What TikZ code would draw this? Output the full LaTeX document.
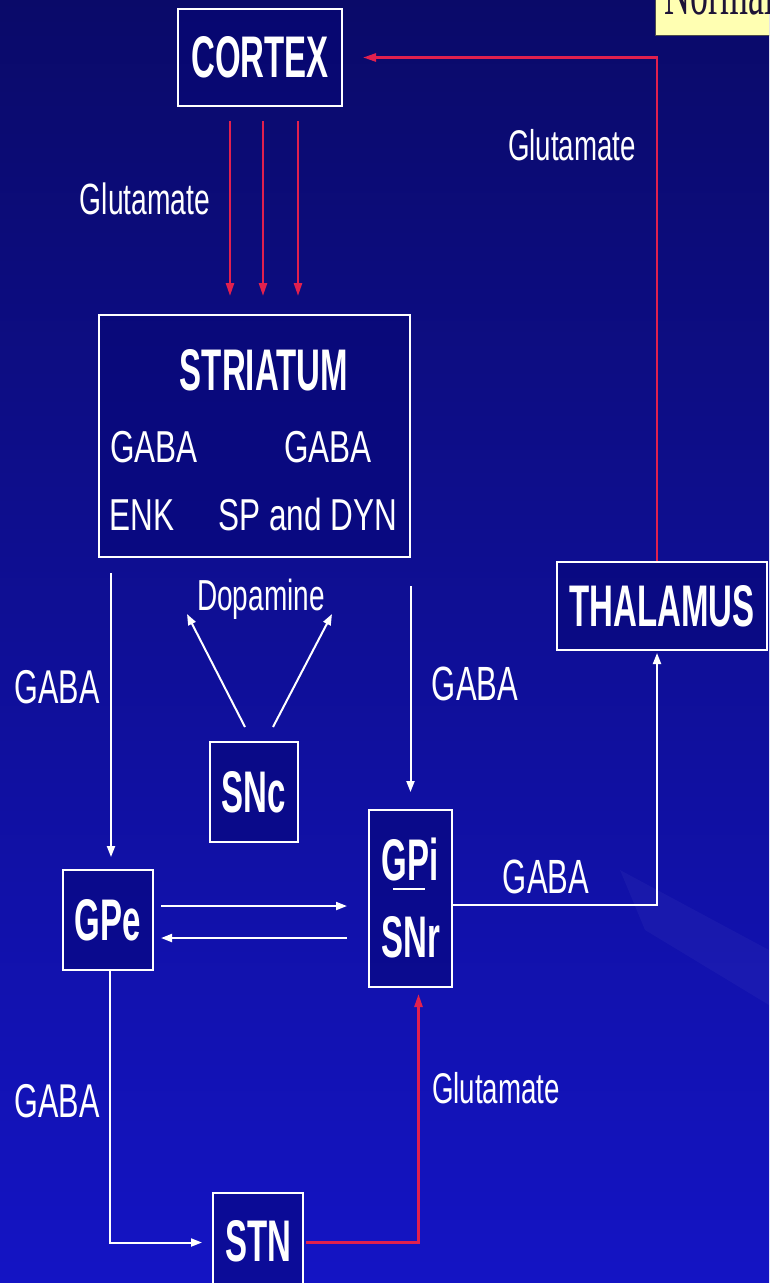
\documentclass[tikz,border=0pt]{standalone}
\usepackage{fontspec}
\setmainfont{Liberation Sans}
\newfontfamily\noteserif{Liberation Serif}
\usepackage{graphicx}
\usetikzlibrary{arrows.meta,calc}

\definecolor{bgtop}{RGB}{10,10,105}
\definecolor{bgmid}{RGB}{14,14,160}
\definecolor{bgbot}{RGB}{20,20,196}
\definecolor{boxfill}{RGB}{6,6,118}
\definecolor{glured}{RGB}{225,32,78}
\definecolor{noteyellow}{RGB}{255,255,178}
\definecolor{noteink}{RGB}{30,20,55}

% tall, narrow lettering used throughout the chart
\newcommand{\boldlab}[1]{\scalebox{1}[1.78]{\fontsize{33}{33}\selectfont\bfseries #1}}
\newcommand{\innerlab}[1]{\scalebox{1}[1.42]{\fontsize{31.5}{31.5}\selectfont #1}}
\newcommand{\plainlab}[2]{\scalebox{1}[1.55]{\fontsize{#1}{#1}\selectfont #2}}

\begin{document}
\begin{tikzpicture}[x=1pt,y=-1pt,
  region/.style={draw=white, line width=2pt, fill=boxfill, fill opacity=0.55,
                 text opacity=1, text=white, inner sep=0pt},
  lab/.style={text=white, inner sep=0pt, anchor=base},
  wline/.style={draw=white, line width=2pt},
  warrow/.style={wline, -{Triangle[width=8pt,length=11pt]}},
  rline/.style={draw=glured, line width=2.5pt},
  rarrow/.style={rline, -{Triangle[width=8pt,length=13pt]}}]

\useasboundingbox (0,0) rectangle (769,1283);
\clip (0,0) rectangle (769,1283);

% backdrop
\shade[top color=bgtop, middle color=bgmid, bottom color=bgbot] (0,0) rectangle (769,1283);
\fill[white, opacity=0.035] (620,870) -- (769,950) -- (769,1005) -- (645,930) -- cycle;

% note tab in the corner
\fill[noteyellow, draw=gray!60!black, line width=0.8pt] (655,-5) rectangle (775,35);
\node[anchor=base west, inner sep=0pt, text=noteink] (note) at (664,14)
  {\scalebox{1}[1.8]{\fontsize{36}{36}\selectfont\noteserif Normal}};

% regions
\node[region, minimum width=164pt, minimum height=97pt] (cortex) at (260,57.5) {\boldlab{CORTEX}};
\node[region, minimum width=311pt, minimum height=242pt] (striatum) at (254.5,436) {};
\node[region, minimum width=88pt, minimum height=100pt] (snc) at (254,792) {\boldlab{SNc}};
\node[region, minimum width=90pt, minimum height=100pt] (gpe) at (108,920) {\boldlab{GPe}};
\node[region, minimum width=83pt, minimum height=177pt] (gpi) at (410.5,898.5) {};
\node[region, minimum width=210pt, minimum height=88pt] (thalamus) at (662,606) {\boldlab{THALAMUS}};
\node[region, minimum width=90pt, minimum height=97pt] (stn) at (258,1241.5) {\boldlab{STN}};

% striatum contents
\node[lab] (striatumtitle) at (264,390) {\boldlab{STRIATUM}};
\node[lab] (gabaenk) at (154,462) {\innerlab{GABA}};
\node[lab] (gabasp) at (328,462) {\innerlab{GABA}};
\node[lab] (enk) at (142,530) {\innerlab{ENK}};
\node[lab] (spdyn) at (308,530) {\innerlab{SP and DYN}};

% GPi / SNr contents
\node[lab] (gpitxt) at (410,880) {\boldlab{GPi}};
\node[lab] (snrtxt) at (411,957) {\boldlab{SNr}};
\draw[wline] ($(gpitxt.base)+(-17,9)$) -- ($(gpitxt.base)+(15,9)$);

% transmitter labels
\node[lab] (glucs) at (145,214) {\plainlab{28.2}{Glutamate}};
\node[lab] (glutc) at (572,160) {\plainlab{27.7}{Glutamate}};
\node[lab] (dopa) at (261,610) {\plainlab{28}{Dopamine}};
\node[lab] (gabasgpe) at (57,703) {\plainlab{30.6}{GABA}};
\node[lab] (gabasgpi) at (475,700) {\plainlab{31}{GABA}};
\node[lab] (gabagt) at (546,893) {\plainlab{31}{GABA}};
\node[lab] (gabags) at (57,1117) {\plainlab{30.6}{GABA}};
\node[lab] (glusg) at (496,1103) {\plainlab{27.7}{Glutamate}};

% cortex -> striatum
\foreach \dx/\ex in {-30/-24.5, 3/8.5, 38/43.5}
  \draw[rarrow] ($(cortex.south)+(\dx,14)$) -- ($(striatum.north)+(\ex,-18)$);

% thalamus -> cortex
\draw[rarrow] ($(thalamus.north)+(-5,0)$) |- ($(cortex.east)+(20,0)$);

% striatum -> GPe and GPi/SNr
\draw[warrow] ($(striatum.south -| gpe.north)+(3,15)$) -- ($(gpe.north)+(3,-12)$);
\draw[warrow] ($(striatum.south -| gpi.north)+(0,28)$) -- ($(gpi.north)+(0,-17)$);

% SNc -> striatum (dopamine)
\draw[warrow] ($(snc.north)+(-9,-14)$) -- ($(snc.north)+(-67,-127)$);
\draw[warrow] ($(snc.north)+(19,-14)$) -- ($(snc.north)+(78,-127)$);

% GPe <-> GPi/SNr
\draw[warrow] ($(gpe.east)+(7,-14)$) -- ($(gpe.east -| gpi.west)+(-21,-14)$);
\draw[warrow] ($(gpe.east -| gpi.west)+(-21,18)$) -- ($(gpe.east)+(7,18)$);

% GPi/SNr -> thalamus
\draw[warrow] ($(gpi.east)+(0,6.5)$) -| ($(thalamus.south)+(-5,2)$);

% GPe -> STN
\draw[warrow] ($(gpe.south)+(2,0)$) |- ($(stn.west)+(-10,1)$);

% STN -> GPi/SNr
\draw[rarrow] ($(stn.east)+(2,1)$) -| ($(gpi.south)+(8,6)$);

\end{tikzpicture}
\end{document}
